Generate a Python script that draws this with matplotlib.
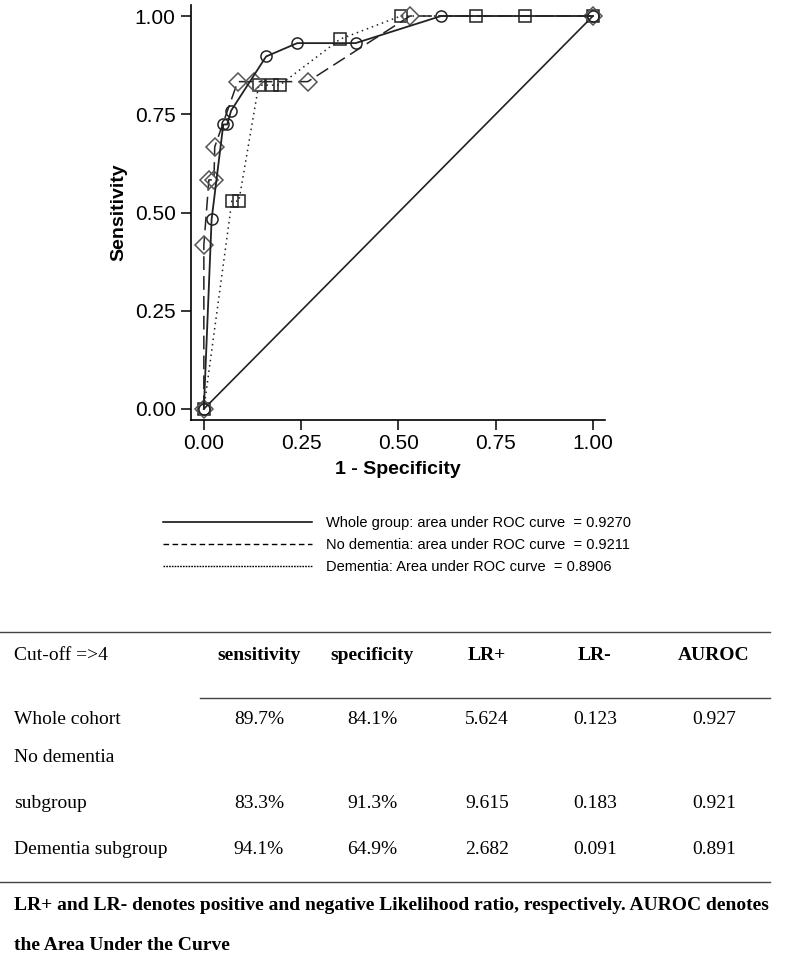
import matplotlib.pyplot as plt
from matplotlib.lines import Line2D

# ROC points (1 - specificity, sensitivity)
whole_fpr = [0.0, 0.02, 0.05, 0.06, 0.07, 0.16, 0.24, 0.39, 0.61, 1.0]
whole_tpr = [0.0, 0.483, 0.724, 0.724, 0.759, 0.897, 0.931, 0.931, 1.0, 1.0]

nodem_fpr = [0.0, 0.0, 0.013, 0.026, 0.028, 0.087, 0.13, 0.267, 0.53, 1.0]
nodem_tpr = [0.0, 0.417, 0.583, 0.583, 0.667, 0.833, 0.833, 0.833, 1.0, 1.0]

dem_fpr = [0.0, 0.072, 0.09, 0.141, 0.175, 0.195, 0.35, 0.506, 0.70, 0.825, 1.0]
dem_tpr = [0.0, 0.529, 0.529, 0.824, 0.824, 0.824, 0.941, 1.0, 1.0, 1.0, 1.0]

ref_line = [0.0, 1.0]
ticks = [0.0, 0.25, 0.5, 0.75, 1.0]

legend_labels = [
    "Whole group: area under ROC curve  = 0.9270",
    "No dementia: area under ROC curve  = 0.9211",
    "Dementia: Area under ROC curve  = 0.8906",
]

# table
col_headers = ["sensitivity", "specificity", "LR+", "LR-", "AUROC"]
row_names = ["Whole cohort", "subgroup", "Dementia subgroup"]
table_vals = [
    ["89.7%", "84.1%", "5.624", "0.123", "0.927"],
    ["83.3%", "91.3%", "9.615", "0.183", "0.921"],
    ["94.1%", "64.9%", "2.682", "0.091", "0.891"],
]
footnote = [
    "LR+ and LR- denotes positive and negative Likelihood ratio, respectively. AUROC denotes",
    "the Area Under the Curve",
]

W, H = 790, 959
fig = plt.figure(figsize=(W / 100, H / 100), dpi=100)
plt.rcParams["font.family"] = ["Liberation Sans", "DejaVu Sans"]

ax = fig.add_axes([191 / W, 1 - 420 / H, (605 - 191) / W, (420 - 5) / H])
lc = "#222222"
ax.plot(ref_line, ref_line, color=lc, lw=1.2)
ax.plot(dem_fpr, dem_tpr, color=lc, lw=1.1, ls=(0, (1, 2.5)),
        marker="s", ms=8.5, mfc="none", mec=lc, mew=1.1)
ax.plot(nodem_fpr, nodem_tpr, color=lc, lw=1.1, ls=(0, (9, 4)),
        marker="D", ms=9, mfc="none", mec="#555555", mew=1.1)
ax.plot(whole_fpr, whole_tpr, color=lc, lw=1.3,
        marker="o", ms=8, mfc="none", mec=lc, mew=1.1)

ax.set_xlim(-0.033, 1.031)
ax.set_ylim(-0.028, 1.028)
ax.set_xticks(ticks)
ax.set_yticks(ticks)
ax.set_xticklabels([f"{t:.2f}" for t in ticks])
ax.set_yticklabels([f"{t:.2f}" for t in ticks])
ax.tick_params(direction="out", length=7, width=1.1, labelsize=15, pad=3)
ax.tick_params(axis="y", pad=4)
for s in ["top", "right"]:
    ax.spines[s].set_visible(False)
for s in ["left", "bottom"]:
    ax.spines[s].set_linewidth(1.2)
ax.set_xlabel("1 - Specificity", fontsize=14, fontweight="bold", labelpad=6)
ax.set_ylabel("Sensitivity", fontsize=14, fontweight="bold", labelpad=5)

handles = [
    Line2D([], [], color="black", lw=1.1),
    Line2D([], [], color="black", lw=1.0, ls=(0, (4, 2.5))),
    Line2D([], [], color="black", lw=1.0, ls=(0, (1.2, 0.8))),
]
fig.legend(handles, legend_labels, loc="upper left",
           bbox_to_anchor=(150 / W, 1 - 503 / H), frameon=False,
           fontsize=10.5, handlelength=10.2, handletextpad=1.0,
           labelspacing=0.55)

# table
serif = ["Liberation Serif", "DejaVu Serif"]
fs = 14


def hline(y, x0, x1):
    fig.add_artist(Line2D([x0 / W, x1 / W], [1 - y / H, 1 - y / H],
                          color="#444444", lw=1.0))


def txt(x, y, s, ha="left", bold=False):
    fig.text(x / W, 1 - y / H, s, ha=ha, va="center", fontsize=fs,
             family=serif, fontweight="bold" if bold else "normal")


col_x = [259, 372, 487, 595, 714]
hline(632, 0, 770)
txt(14, 655, "Cut-off =>4")
for cx, h in zip(col_x, col_headers):
    txt(cx, 655, h, ha="center", bold=True)
hline(698, 200, 770)
txt(14, 720, row_names[0])
txt(14, 757, "No dementia")
txt(14, 804, row_names[1])
txt(14, 849, row_names[2])
for ry, row in zip([720, 804, 849], table_vals):
    for cx, v in zip(col_x, row):
        txt(cx, ry, v, ha="center")
hline(882, 0, 770)
txt(14, 905, footnote[0], bold=True)
txt(14, 945, footnote[1], bold=True)

fig.savefig("out.png", dpi=100)
